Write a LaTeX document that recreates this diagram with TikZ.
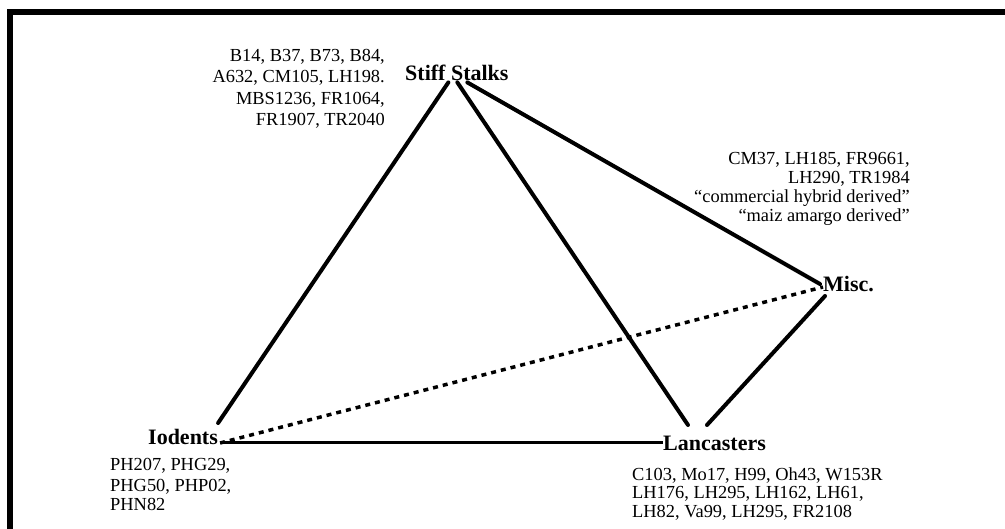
\documentclass[tikz,border=0pt]{standalone}
\usepackage{fontspec}
\setmainfont{Liberation Serif}
\begin{document}
\begin{tikzpicture}[x=1pt,y=-1pt,
  lbl/.style={font=\fontsize{22}{24}\selectfont\bfseries, inner sep=0pt},
  lstr/.style={font=\fontsize{18.4}{21.5}\selectfont, inner sep=0pt, align=right},
  lstl/.style={font=\fontsize{18.4}{19.8}\selectfont, inner sep=0pt, align=left},
  edge/.style={line width=4pt, line cap=round},
  hedge/.style={line width=3pt},
  dotedge/.style={line width=3.5pt, dash pattern=on 5pt off 5pt},
  frame/.style={line width=6pt}]
\useasboundingbox (0,0) rectangle (1005,529);
% frame
\coordinate (fbl) at (10,540);
\coordinate (fc) at (10,12);
\coordinate (ftr) at (1015,12);
\draw[frame] (fbl) -- (fc) -- (ftr);
% group labels
\node[lbl, anchor=base west] (stiff) at (405,81) {Stiff Stalks};
\node[lbl, anchor=base west] (misc) at (823,292) {Misc.};
\node[lbl, anchor=base west] (iod) at (148,445) {Iodents};
\node[lbl, anchor=base west] (lan) at (663,451) {Lancasters};
% member lists (base anchor = baseline of last line)
\node[lstr, anchor=base east] (stifflist) at (385,126) {B14, B37, B73, B84,\\A632, CM105, LH198.\\MBS1236, FR1064,\\FR1907, TR2040};
\node[lstr, font=\fontsize{18.4}{19}\selectfont, anchor=base east] (misclist) at (910,222) {CM37, LH185, FR9661,\\LH290, TR1984\\“commercial hybrid derived”\\“maiz amargo derived”};
\node[lstl, font=\fontsize{18.4}{20}\selectfont, anchor=base west] (iodlist) at (110,511) {PH207, PHG29,\\PHG50, PHP02,\\PHN82};
\node[lstl, font=\fontsize{18.4}{19}\selectfont, anchor=base west] (lanlist) at (632,518) {C103, Mo17, H99, Oh43, W153R\\LH176, LH295, LH162, LH61,\\LH82, Va99, LH295, FR2108};
% connectors
\draw[edge] ([xshift=-8.5pt,yshift=-1pt]stiff.south) -- ([yshift=22pt]iod.base east);
\draw[edge] ([xshift=0.5pt,yshift=-1pt]stiff.south) -- ([xshift=25pt,yshift=26pt]lan.base west);
\draw[edge] ([xshift=10.5pt,yshift=-1pt]stiff.south) -- ([xshift=-3pt,yshift=8pt]misc.base west);
\draw[edge] ([xshift=2pt,yshift=-4pt]misc.base west) -- ([xshift=44pt,yshift=26pt]lan.base west);
\draw[hedge] ([xshift=2pt,yshift=2pt]iod.base east) -- ([yshift=8pt]lan.base west);
\draw[dotedge] ([xshift=2pt,yshift=2pt]iod.base east) -- ([yshift=5pt]misc.base west);
\end{tikzpicture}
\end{document}
